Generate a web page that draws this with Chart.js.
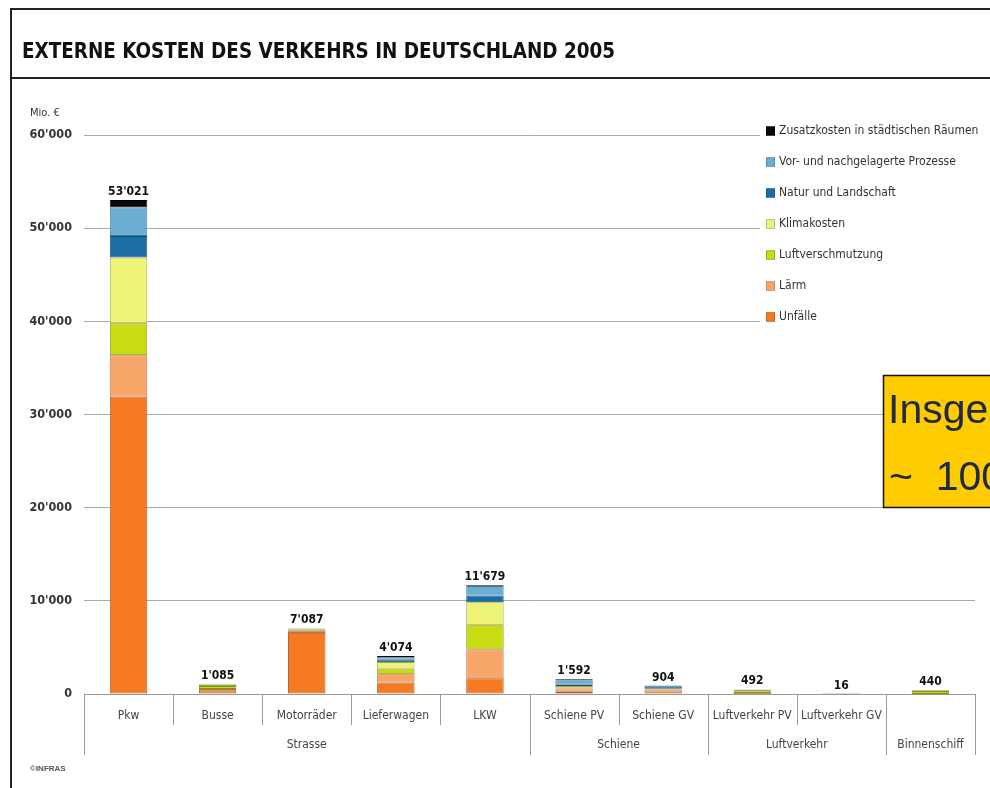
<!DOCTYPE html>
<html><head><meta charset="utf-8">
<script src="https://cdn.jsdelivr.net/npm/chart.js@4/dist/chart.umd.min.js"></script>
<style>html,body{margin:0;padding:0;background:#fff}#wrap{width:990px;height:788px;position:relative}</style>
</head><body><div id="wrap"><canvas id="c" width="990" height="788"></canvas></div>
<script>
// ---- data ----
const categories = ['Pkw','Busse','Motorräder','Lieferwagen','LKW','Schiene PV','Schiene GV','Luftverkehr PV','Luftverkehr GV','Binnenschiff'];
const groupLabels = ['Strasse','Schiene','Luftverkehr','Binnenschiff'];
const groupSizes = [5, 2, 2, 1];
const totals = [53021, 1085, 7087, 4074, 11679, 1592, 904, 492, 16, 440];
const unfaelle = [31930, 400, 6560, 1230, 1680, 250, 100, 10, 0, 10];
const laerm    = [4431, 150, 230, 900, 3110, 350, 380, 80, 4, 0];
const luft     = [3433, 300, 120, 600, 2600, 100, 50, 150, 4, 300];
const klima    = [7049, 150, 130, 700, 2470, 150, 40, 180, 6, 90];
const natur    = [2318, 30, 20, 250, 720, 150, 254, 30, 0, 20];
const vorNach  = [3047, 55, 27, 300, 1000, 480, 80, 42, 2, 20];
const zusatz   = [813, 0, 0, 94, 99, 112, 0, 0, 0, 0];
const yTicks = [0, 10000, 20000, 30000, 40000, 50000, 60000];
const seriesNames = ['Unfälle','Lärm','Luftverschmutzung','Klimakosten','Natur und Landschaft','Vor- und nachgelagerte Prozesse','Zusatzkosten in städtischen Räumen'];
const seriesValues = [unfaelle, laerm, luft, klima, natur, vorNach, zusatz];
const seriesColors = ['#F57A22','#F9A66B','#C9DB12','#ECF377','#1B6EA3','#6CAED2','#0A0A0A'];
const seriesBorders = ['#A8501A','#B87444','#86920E','#A0A64A','#124E74','#467A94','#000000'];

const FONT = '"DejaVu Sans Condensed", "DejaVu Sans", sans-serif';
function fmt(v){ return String(v).replace(/\B(?=(\d{3})+(?!\d))/g, "'"); }

const LEG = {x:766, y0:131, dy:31};

const deco = {
  id: 'deco',
  beforeDatasetsDraw(chart){
    const ctx = chart.ctx;
    ctx.save();
    ctx.fillStyle = '#fff';
    ctx.fillRect(760, 118, 230, 215);
    ctx.restore();
  },
  afterDraw(chart){
    const ctx = chart.ctx;
    const xs = chart.scales.x, ys = chart.scales.y;
    ctx.save();
    // frame
    ctx.strokeStyle = '#222'; ctx.lineWidth = 2;
    ctx.beginPath();
    ctx.moveTo(11, 788); ctx.lineTo(11, 9); ctx.lineTo(990, 9);
    ctx.moveTo(11, 78); ctx.lineTo(990, 78);
    ctx.stroke();
    // title (fit to reference width)
    ctx.fillStyle = '#111';
    ctx.font = 'bold 21.5px ' + FONT;
    ctx.textBaseline = 'alphabetic'; ctx.textAlign = 'left';
    const title = 'EXTERNE KOSTEN DES VERKEHRS IN DEUTSCHLAND 2005';
    const tw = ctx.measureText(title).width;
    ctx.save();
    ctx.translate(22, 58);
    ctx.scale(593 / tw, 1);
    ctx.fillText(title, 0, 0);
    ctx.restore();
    // unit
    ctx.fillStyle = '#333';
    ctx.font = '11px ' + FONT;
    ctx.fillText('Mio. €', 30, 116);
    // source
    ctx.fillStyle = '#555';
    ctx.font = 'bold 8px "Liberation Sans", Arial, sans-serif';
    ctx.fillText('©INFRAS', 30, 771);
    // separators
    const n = categories.length;
    const cw = (xs.right - xs.left) / n;
    const bnd = i => xs.left + cw * i;
    const groupStarts = [0];
    groupSizes.forEach((s, k) => groupStarts.push(groupStarts[k] + s));
    ctx.strokeStyle = '#9a9a9a'; ctx.lineWidth = 1;
    ctx.beginPath();
    for (let i = 0; i <= n; i++) {
      const x = Math.round(bnd(i)) + 0.5;
      const long = groupStarts.includes(i);
      ctx.moveTo(x, ys.bottom);
      ctx.lineTo(x, ys.bottom + (long ? 61 : 31));
    }
    ctx.stroke();
    // group labels
    ctx.fillStyle = '#444';
    ctx.font = '12px ' + FONT;
    ctx.textAlign = 'center'; ctx.textBaseline = 'middle';
    groupLabels.forEach((g, k) => {
      const cx = (bnd(groupStarts[k]) + bnd(groupStarts[k + 1])) / 2;
      ctx.fillText(g, cx, ys.bottom + 51);
    });
    // totals above bars
    ctx.fillStyle = '#111';
    ctx.font = 'bold 12px ' + FONT;
    ctx.textBaseline = 'alphabetic';
    totals.forEach((t, i) => {
      ctx.fillText(fmt(t), xs.getPixelForValue(i), ys.getPixelForValue(t) - 5);
    });
    // legend
    ctx.textAlign = 'left'; ctx.textBaseline = 'middle';
    ctx.font = '12px ' + FONT;
    const ds = chart.data.datasets;
    for (let k = ds.length - 1, r = 0; k >= 0; k--, r++) {
      const y = LEG.y0 + r * LEG.dy;
      ctx.fillStyle = ds[k].backgroundColor;
      ctx.fillRect(LEG.x, y - 4.5, 9, 9);
      ctx.strokeStyle = ds[k].borderColor; ctx.lineWidth = 0.6;
      ctx.strokeRect(LEG.x + 0.3, y - 4.2, 8.4, 8.4);
      ctx.fillStyle = '#333';
      ctx.fillText(ds[k].label, LEG.x + 13, y);
    }
    // yellow box
    ctx.fillStyle = '#FFCC00';
    ctx.fillRect(883, 375, 120, 133);
    ctx.strokeStyle = '#111'; ctx.lineWidth = 1.5;
    ctx.strokeRect(883.5, 375.5, 120, 132);
    ctx.fillStyle = '#1E2A48';
    ctx.font = '41px "Liberation Sans", Arial, sans-serif';
    ctx.textAlign = 'left'; ctx.textBaseline = 'alphabetic';
    ctx.fillText('Insgesamt', 888, 423);
    ctx.fillText('~  100 Mrd. €', 889, 490);
    ctx.restore();
  }
};

new Chart(document.getElementById('c'), {
  type: 'bar',
  data: {
    labels: categories,
    datasets: seriesNames.map((name, k) => ({
      label: name,
      data: seriesValues[k],
      backgroundColor: seriesColors[k],
      borderColor: seriesBorders[k],
      borderWidth: 0.9,
      borderSkipped: false,
      categoryPercentage: 1.0,
      barPercentage: 0.42
    }))
  },
  options: {
    responsive: false,
    devicePixelRatio: 1,
    animation: false,
    layout: { padding: { left: 0, right: 15, top: 135, bottom: 0 } },
    plugins: { legend: { display: false }, tooltip: { enabled: false }, title: { display: false } },
    scales: {
      x: {
        stacked: true,
        grid: { display: true, drawOnChartArea: false, drawTicks: false },
        border: { display: true, color: '#999', width: 1 },
        ticks: {
          font: { family: FONT, size: 12 }, color: '#444', padding: 15, maxRotation: 0, autoSkip: false,
          callback: function (v, i) {
            const lab = categories[i];
            // a single-member group shows only its group label
            let start = 0;
            for (let k = 0; k < groupSizes.length; k++) {
              if (i >= start && i < start + groupSizes[k]) {
                return (groupSizes[k] === 1 && groupLabels[k] === lab) ? '' : lab;
              }
              start += groupSizes[k];
            }
            return lab;
          }
        },
        afterFit: s => { s.height = 94; }
      },
      y: {
        stacked: true,
        min: 0, max: 60000,
        afterBuildTicks: s => { s.ticks = yTicks.map(v => ({ value: v })); },
        grid: { color: '#aaa', lineWidth: 1, drawTicks: false },
        border: { display: false },
        ticks: { callback: v => fmt(v), font: { family: FONT, size: 12.5, weight: 'bold' }, color: '#333', padding: 12 },
        afterFit: s => { s.width = 84; }
      }
    }
  },
  plugins: [deco]
});
</script>
</body></html>
